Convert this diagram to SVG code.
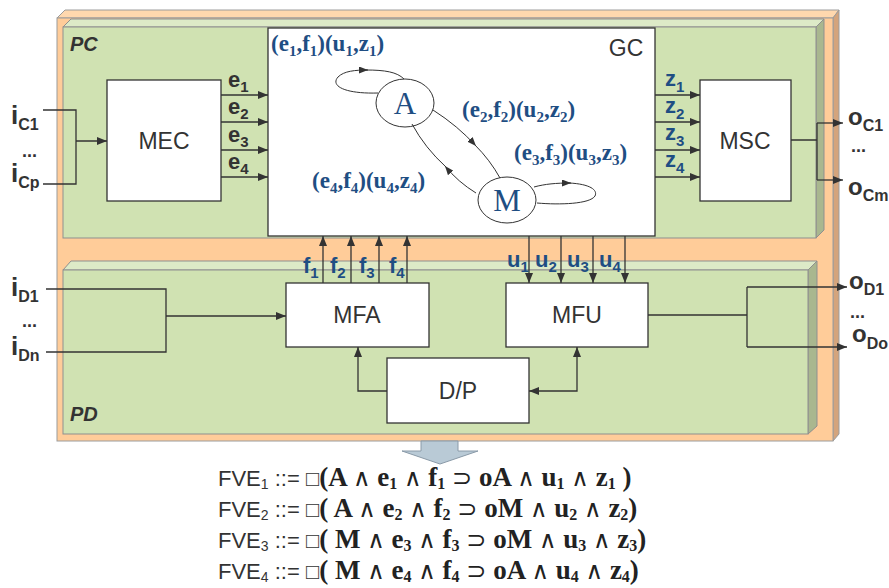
<svg xmlns="http://www.w3.org/2000/svg" width="889" height="588" viewBox="0 0 889 588">
<defs>
<style>
.pf{fill:#FFCC99;stroke:#9c9c9c;stroke-width:1}
.pt{fill:#FFD8AE;stroke:#9c9c9c;stroke-width:1}
.ps{fill:#D4A47C;stroke:#9c9c9c;stroke-width:1}
.gf{fill:#D0E2B2;stroke:#8f8f8f;stroke-width:1}
.gt{fill:#DDEAC7;stroke:#8f8f8f;stroke-width:1}
.gs{fill:#A9B78F;stroke:#8f8f8f;stroke-width:1}
.box{fill:#fff;stroke:#333;stroke-width:1.3}
.ln{fill:none;stroke:#333;stroke-width:1.3}
.gl{fill:none;stroke:#333;stroke-width:1}
.nm{font-family:"Liberation Sans",Arial,sans-serif;font-size:23px;fill:#333;text-anchor:middle}
.dk{font-family:"Liberation Sans",Arial,sans-serif;font-weight:bold;fill:#333}
.bl{font-family:"Liberation Sans",Arial,sans-serif;font-weight:bold;fill:#1F4E83}
.sf{font-family:"Liberation Serif","Times New Roman",serif;font-weight:bold;fill:#1F4E83}
.st{font-family:"Liberation Serif","Times New Roman",serif;font-size:31px;fill:#1F4E83;text-anchor:middle}
.fm{font-family:"Liberation Sans",Arial,sans-serif;font-size:22px;fill:#333}
.fs{font-family:"Liberation Serif","Times New Roman",serif;font-weight:bold;font-size:27px;fill:#222}
.op{font-family:"DejaVu Sans",sans-serif;font-weight:normal;font-size:24px}
.sb{font-size:16px}
</style>
<marker id="ar" markerWidth="10" markerHeight="8" refX="10" refY="4" orient="auto-start-reverse" markerUnits="userSpaceOnUse"><path d="M0,0 L10,4 L0,8 z" fill="#333"/></marker>
<marker id="as" markerWidth="9" markerHeight="7" refX="9" refY="3.5" orient="auto" markerUnits="userSpaceOnUse"><path d="M0,0 L9,3.5 L0,7 z" fill="#333"/></marker>
</defs>
<rect width="889" height="588" fill="#fff"/>

<g id="panel-outer">
<polygon class="pt" points="57,18 65,10 839,10 833,18"/>
<polygon class="ps" points="833,18 839,10 839,434 833,441"/>
<rect class="pf" x="57" y="18" width="776" height="423"/>
</g>
<g id="panel-PC">
<polygon class="gt" points="63,27 71,19 824,19 816,27"/>
<polygon class="gs" points="816,27 824,19 824,230 816,238"/>
<rect class="gf" x="63" y="27" width="753" height="211"/>
<text class="dk" x="70" y="51" font-size="20" font-style="italic">PC</text>
</g>
<g id="panel-PD">
<polygon class="gt" points="63,270 71,261 817,261 808,270"/>
<polygon class="gs" points="808,270 817,261 817,426 808,434"/>
<rect class="gf" x="63" y="270" width="745" height="164"/>
<text class="dk" x="70" y="421" font-size="20" font-style="italic">PD</text>
</g>

<g id="MEC"><rect class="box" x="107" y="80" width="114" height="121"/><text class="nm" x="164" y="149">MEC</text></g>
<g id="GC"><rect class="box" x="268" y="28" width="387" height="208"/><text class="nm" x="626" y="56">GC</text></g>
<g id="MSC"><rect class="box" x="700" y="80" width="91" height="121"/><text class="nm" x="745" y="149">MSC</text></g>
<g id="MFA"><rect class="box" x="286" y="283" width="143" height="64"/><text class="nm" x="357" y="323">MFA</text></g>
<g id="MFU"><rect class="box" x="506" y="283" width="142" height="64"/><text class="nm" x="577" y="323">MFU</text></g>
<g id="DP"><rect class="box" x="387" y="358" width="142" height="65"/><text class="nm" x="458" y="399">D/P</text></g>

<g id="state-A"><ellipse cx="405" cy="103" rx="29" ry="24" fill="#fff" stroke="#333" stroke-width="1"/><text class="st" x="405" y="114">A</text></g>
<g id="state-M"><ellipse cx="507" cy="200" rx="29" ry="23" fill="#fff" stroke="#333" stroke-width="1"/><text class="st" x="507" y="211">M</text></g>

<g id="connectors">
<path class="ln" d="M43,110 H76 V184 H43 M76,141 H107" marker-end="url(#ar)"/>
<path class="ln" d="M221,95 H268" marker-end="url(#ar)"/>
<path class="ln" d="M221,122 H268" marker-end="url(#ar)"/>
<path class="ln" d="M221,150 H268" marker-end="url(#ar)"/>
<path class="ln" d="M221,177 H268" marker-end="url(#ar)"/>
<path class="ln" d="M655,95 H700" marker-end="url(#ar)"/>
<path class="ln" d="M655,122 H700" marker-end="url(#ar)"/>
<path class="ln" d="M655,150 H700" marker-end="url(#ar)"/>
<path class="ln" d="M655,177 H700" marker-end="url(#ar)"/>
<path class="ln" d="M791,140 H817 M817,123 V180"/>
<path class="ln" d="M817,123 H843" marker-end="url(#ar)"/>
<path class="ln" d="M817,180 H843" marker-end="url(#ar)"/>
<path class="ln" d="M323,283 V236" marker-end="url(#ar)"/>
<path class="ln" d="M351,283 V236" marker-end="url(#ar)"/>
<path class="ln" d="M379,283 V236" marker-end="url(#ar)"/>
<path class="ln" d="M407,283 V236" marker-end="url(#ar)"/>
<path class="ln" d="M529,236 V283" marker-end="url(#ar)"/>
<path class="ln" d="M561,236 V283" marker-end="url(#ar)"/>
<path class="ln" d="M593,236 V283" marker-end="url(#ar)"/>
<path class="ln" d="M625,236 V283" marker-end="url(#ar)"/>
<path class="ln" d="M46,289 H166 V352 H46 M166,316 H286" marker-end="url(#ar)"/>
<path class="ln" d="M387,391 H358 V347" marker-end="url(#ar)"/>
<path class="ln" d="M529,391 H577 V347" marker-start="url(#ar)" marker-end="url(#ar)"/>
<path class="ln" d="M648,315 H747 M747,287 V347"/>
<path class="ln" d="M747,287 H847" marker-end="url(#ar)"/>
<path class="ln" d="M747,347 H847" marker-end="url(#ar)"/>
<path class="gl" d="M378,93 C345,94 330,86 338,77 C344,71 355,70 368,70" marker-end="url(#as)"/>
<path class="gl" d="M366,70 C385,70 397,72 404,79"/>
<path class="gl" d="M433,110 Q458,126 476,146" marker-end="url(#as)"/>
<path class="gl" d="M475,145 Q490,160 500,178"/>
<path class="gl" d="M476,193 Q458,182 445,166" marker-end="url(#as)"/>
<path class="gl" d="M446,167 Q425,148 412,124"/>
<path class="gl" d="M534,187 C545,184 556,183 571,183" marker-end="url(#as)"/>
<path class="gl" d="M569,183 C590,184 598,190 595,196 C590,204 560,205 537,203"/>
</g>

<g id="labels">
<text class="dk" x="11" y="124" font-size="26">i<tspan font-size="16" dy="6">C1</tspan></text>
<text class="dk" x="22" y="157" font-size="18">...</text>
<text class="dk" x="11" y="182" font-size="26">i<tspan font-size="16" dy="6">Cp</tspan></text>
<text class="dk" x="11" y="296" font-size="26">i<tspan font-size="16" dy="6">D1</tspan></text>
<text class="dk" x="22" y="327" font-size="18">...</text>
<text class="dk" x="11" y="355" font-size="26">i<tspan font-size="16" dy="6">Dn</tspan></text>
<text class="dk" x="848" y="125" font-size="24">o<tspan font-size="16" dy="6">C1</tspan></text>
<text class="dk" x="851" y="152" font-size="18">...</text>
<text class="dk" x="848" y="195" font-size="24">o<tspan font-size="16" dy="6">Cm</tspan></text>
<text class="dk" x="849" y="289" font-size="24">o<tspan font-size="16" dy="6">D1</tspan></text>
<text class="dk" x="850" y="318" font-size="18">...</text>
<text class="dk" x="852" y="342" font-size="24">o<tspan font-size="16" dy="7">Do</tspan></text>
<text class="dk" x="228" y="87" font-size="22">e<tspan font-size="15" dy="5">1</tspan></text>
<text class="dk" x="228" y="114" font-size="22">e<tspan font-size="15" dy="5">2</tspan></text>
<text class="dk" x="228" y="142" font-size="22">e<tspan font-size="15" dy="5">3</tspan></text>
<text class="dk" x="228" y="169" font-size="22">e<tspan font-size="15" dy="5">4</tspan></text>
<text class="bl" x="665" y="86" font-size="22">z<tspan font-size="15" dy="6">1</tspan></text>
<text class="bl" x="665" y="113" font-size="22">z<tspan font-size="15" dy="6">2</tspan></text>
<text class="bl" x="665" y="140" font-size="22">z<tspan font-size="15" dy="6">3</tspan></text>
<text class="bl" x="665" y="167" font-size="22">z<tspan font-size="15" dy="6">4</tspan></text>
<text class="bl" x="303" y="273" font-size="22">f<tspan font-size="15" dy="5">1</tspan></text>
<text class="bl" x="330" y="273" font-size="22">f<tspan font-size="15" dy="5">2</tspan></text>
<text class="bl" x="359" y="273" font-size="22">f<tspan font-size="15" dy="5">3</tspan></text>
<text class="bl" x="389" y="273" font-size="22">f<tspan font-size="15" dy="5">4</tspan></text>
<text class="bl" x="507" y="267" font-size="22">u<tspan font-size="15" dy="5">1</tspan></text>
<text class="bl" x="535" y="267" font-size="22">u<tspan font-size="15" dy="5">2</tspan></text>
<text class="bl" x="567" y="267" font-size="22">u<tspan font-size="15" dy="5">3</tspan></text>
<text class="bl" x="599" y="267" font-size="22">u<tspan font-size="15" dy="5">4</tspan></text>
<text class="sf" x="271" y="51" font-size="23">(e<tspan font-size="15" dy="5">1</tspan><tspan dy="-5">,f</tspan><tspan font-size="15" dy="5">1</tspan><tspan dy="-5">)(u</tspan><tspan font-size="15" dy="5">1</tspan><tspan dy="-5">,z</tspan><tspan font-size="15" dy="5">1</tspan><tspan dy="-5">)</tspan></text>
<text class="sf" x="462" y="117" font-size="23">(e<tspan font-size="15" dy="5">2</tspan><tspan dy="-5">,f</tspan><tspan font-size="15" dy="5">2</tspan><tspan dy="-5">)(u</tspan><tspan font-size="15" dy="5">2</tspan><tspan dy="-5">,z</tspan><tspan font-size="15" dy="5">2</tspan><tspan dy="-5">)</tspan></text>
<text class="sf" x="514" y="160" font-size="23">(e<tspan font-size="15" dy="5">3</tspan><tspan dy="-5">,f</tspan><tspan font-size="15" dy="5">3</tspan><tspan dy="-5">)(u</tspan><tspan font-size="15" dy="5">3</tspan><tspan dy="-5">,z</tspan><tspan font-size="15" dy="5">3</tspan><tspan dy="-5">)</tspan></text>
<text class="sf" x="312" y="188" font-size="23">(e<tspan font-size="15" dy="5">4</tspan><tspan dy="-5">,f</tspan><tspan font-size="15" dy="5">4</tspan><tspan dy="-5">)(u</tspan><tspan font-size="15" dy="5">4</tspan><tspan dy="-5">,z</tspan><tspan font-size="15" dy="5">4</tspan><tspan dy="-5">)</tspan></text>
</g>

<g id="big-arrow"><polygon points="421,441 458,441 458,451 478,451 440,464 402,451 421,451" fill="#B9CAD6" stroke="#8a9aa8" stroke-width="1"/></g>

<g id="formulas">
<text class="fm" x="218" y="486">FVE<tspan font-size="14" dy="3">1</tspan><tspan dy="-3"> ::= □</tspan><tspan class="fs">(A <tspan class="op">∧</tspan> e<tspan class="sb" dy="3">1</tspan><tspan dy="-3"> </tspan><tspan class="op">∧</tspan> f<tspan class="sb" dy="3">1</tspan><tspan dy="-3"> </tspan><tspan class="op">⊃</tspan> oA <tspan class="op">∧</tspan> u<tspan class="sb" dy="3">1</tspan><tspan dy="-3"> </tspan><tspan class="op">∧</tspan> z<tspan class="sb" dy="3">1</tspan><tspan dy="-3"> )</tspan></tspan></text>
<text class="fm" x="218" y="517">FVE<tspan font-size="14" dy="3">2</tspan><tspan dy="-3"> ::= □</tspan><tspan class="fs">( A <tspan class="op">∧</tspan> e<tspan class="sb" dy="3">2</tspan><tspan dy="-3"> </tspan><tspan class="op">∧</tspan> f<tspan class="sb" dy="3">2</tspan><tspan dy="-3"> </tspan><tspan class="op">⊃</tspan> oM <tspan class="op">∧</tspan> u<tspan class="sb" dy="3">2</tspan><tspan dy="-3"> </tspan><tspan class="op">∧</tspan> z<tspan class="sb" dy="3">2</tspan><tspan dy="-3">)</tspan></tspan></text>
<text class="fm" x="218" y="548">FVE<tspan font-size="14" dy="3">3</tspan><tspan dy="-3"> ::= □</tspan><tspan class="fs">( M <tspan class="op">∧</tspan> e<tspan class="sb" dy="3">3</tspan><tspan dy="-3"> </tspan><tspan class="op">∧</tspan> f<tspan class="sb" dy="3">3</tspan><tspan dy="-3"> </tspan><tspan class="op">⊃</tspan> oM <tspan class="op">∧</tspan> u<tspan class="sb" dy="3">3</tspan><tspan dy="-3"> </tspan><tspan class="op">∧</tspan> z<tspan class="sb" dy="3">3</tspan><tspan dy="-3">)</tspan></tspan></text>
<text class="fm" x="218" y="579">FVE<tspan font-size="14" dy="3">4</tspan><tspan dy="-3"> ::= □</tspan><tspan class="fs">( M <tspan class="op">∧</tspan> e<tspan class="sb" dy="3">4</tspan><tspan dy="-3"> </tspan><tspan class="op">∧</tspan> f<tspan class="sb" dy="3">4</tspan><tspan dy="-3"> </tspan><tspan class="op">⊃</tspan> oA <tspan class="op">∧</tspan> u<tspan class="sb" dy="3">4</tspan><tspan dy="-3"> </tspan><tspan class="op">∧</tspan> z<tspan class="sb" dy="3">4</tspan><tspan dy="-3">)</tspan></tspan></text>
</g>
</svg>
